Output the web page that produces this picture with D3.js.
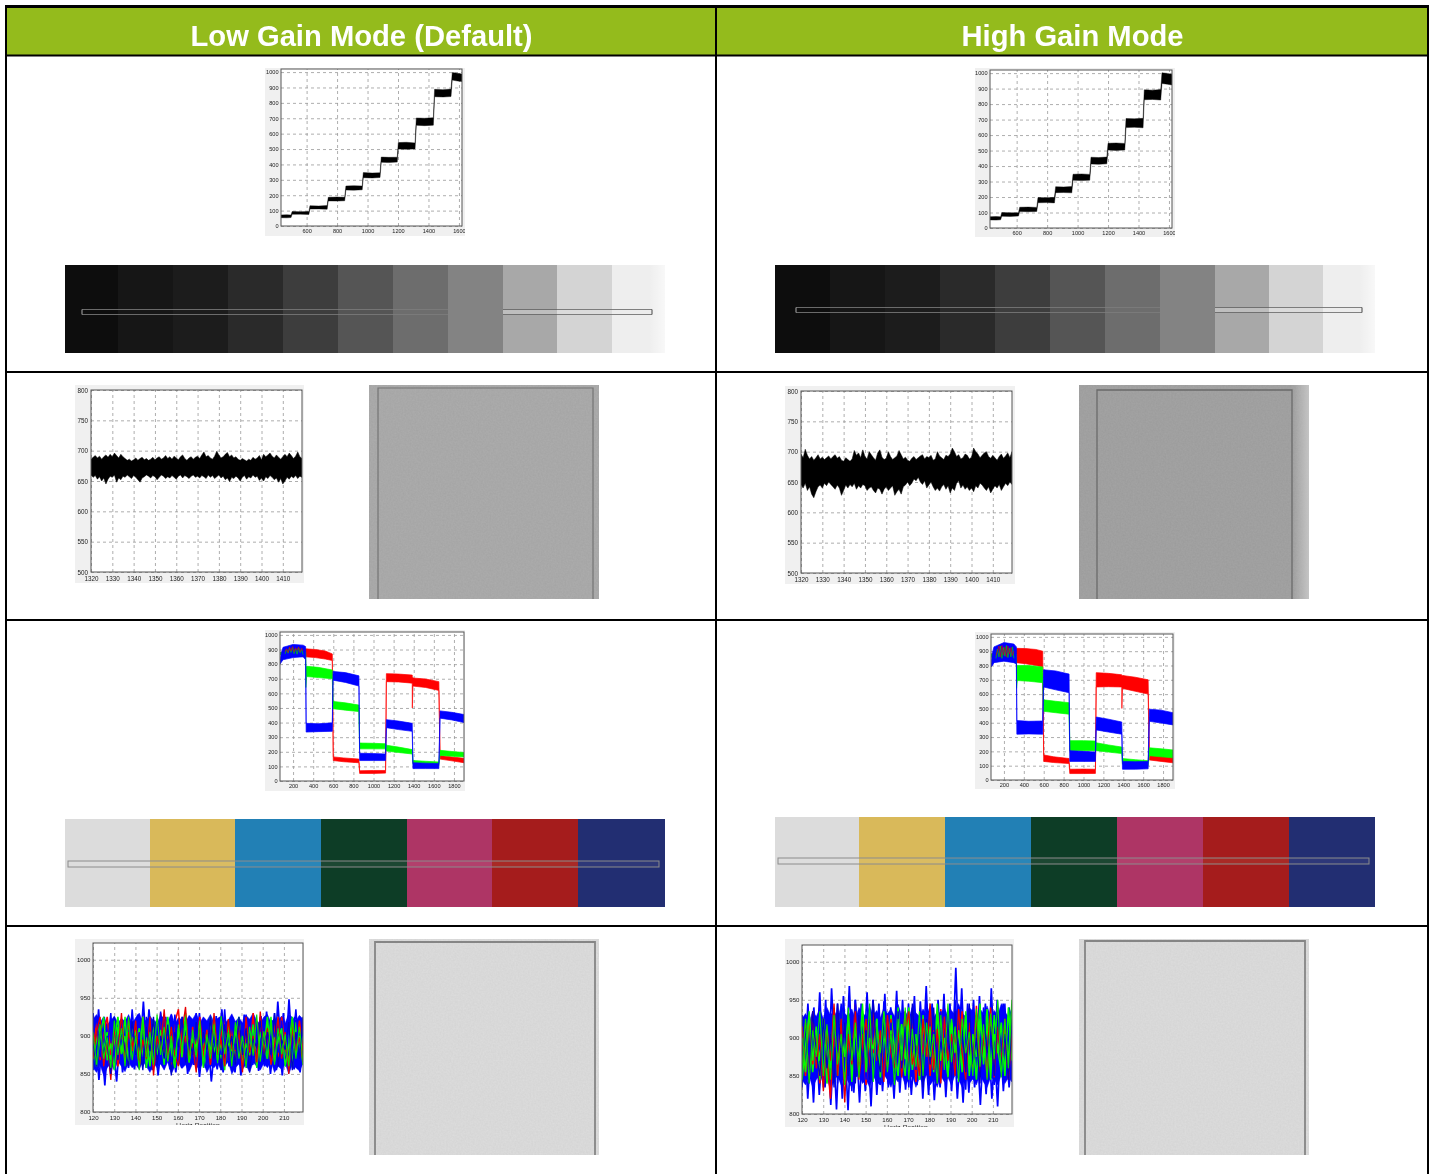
<!DOCTYPE html>
<html><head><meta charset="utf-8">
<script src="https://cdnjs.cloudflare.com/ajax/libs/d3/7.8.5/d3.min.js"></script>
<style>
html,body{margin:0;padding:0;background:#fff;overflow:hidden}
svg{display:block}
text{font-family:"Liberation Sans",Arial,sans-serif}
</style></head><body>
<svg id="c" width="1432" height="1174"></svg>
<script>
// ---------- column headings
const headings = ["Low Gain Mode (Default)", "High Gain Mode"];

// ---------- tick labels
const stepXTicks = [600,800,1000,1200,1400,1600];
const hundredYTicks = [0,100,200,300,400,500,600,700,800,900,1000];
const colorXTicks = [200,400,600,800,1000,1200,1400,1600,1800];
const grayNoiseXTicks = [1320,1330,1340,1350,1360,1370,1380,1390,1400,1410];
const grayNoiseYTicks = [500,550,600,650,700,750,800];
const colorNoiseXTicks = [120,130,140,150,160,170,180,190,200,210];
const colorNoiseYTicks = [800,850,900,950,1000];

// ---------- greyscale ramp response (position, upper, lower)
const stepLowX = [432,470,498,505,560,615,622,680,735,742,800,850,858,910,965,972,1030,1082,1090,1140,1195,1202,1255,1312,1320,1375,1432,1440,1495,1548,1556,1590,1620];
const stepLowHi = [72,73,71,94,93,94,132,130,133,186,188,186,260,262,260,347,344,346,448,446,447,542,544,540,702,700,704,888,886,890,997,992,987];
const stepLowLo = [54,53,55,76,77,75,110,111,109,163,162,164,234,233,235,314,312,315,414,412,415,500,498,501,654,652,655,840,838,841,948,942,938];
const stepHighX = [425,465,495,502,558,612,620,678,732,740,798,848,856,908,962,970,1028,1080,1088,1138,1192,1200,1252,1310,1318,1372,1430,1438,1492,1546,1554,1590,1620];
const stepHighHi = [73,74,72,100,98,99,134,135,133,197,195,198,267,265,268,347,349,346,457,455,458,547,549,546,707,705,708,892,890,894,1002,998,992];
const stepHighLo = [52,51,53,76,75,77,106,105,107,163,164,162,228,229,227,308,306,309,413,411,414,503,501,504,648,650,647,828,830,826,933,928,923];

// ---------- grey patch noise envelopes
const grayLowHi = [686,689,692,688,691,686,690,693,689,694,690,696,692,688,694,690,687,684,686,683,685,688,684,687,689,685,687,684,686,689,685,688,690,686,688,692,687,690,686,691,688,685,690,693,687,684,688,690,686,689,691,687,693,698,690,692,688,686,691,699,693,688,690,694,697,690,693,688,690,686,684,687,685,683,686,684,689,686,688,692,685,694,690,693,696,691,688,693,689,686,690,694,690,696,692,687,691,698,690,687];
const grayLowLo = [660,656,659,653,657,650,655,645,653,658,656,660,648,655,652,658,656,660,657,654,659,656,652,648,655,657,660,658,655,659,657,652,656,660,658,654,657,655,659,656,653,658,660,655,659,657,654,658,660,656,658,655,659,657,654,660,656,659,654,657,660,655,658,652,655,649,656,654,658,655,650,656,659,653,657,655,660,656,658,651,655,650,657,654,659,656,652,655,648,654,645,650,656,653,658,655,659,654,658,656];
const grayHighHi = [696,690,704,694,688,692,686,690,695,688,691,687,690,693,688,692,695,689,692,686,684,690,687,684,688,702,694,698,690,703,692,688,700,695,690,686,698,703,691,687,689,700,692,687,690,693,702,695,688,691,686,684,689,692,687,690,693,695,688,692,690,694,686,688,700,693,690,687,694,692,696,706,700,692,695,688,690,696,694,688,691,706,700,696,690,694,698,700,692,689,694,690,686,692,696,689,693,698,690,700];
const grayHighLo = [645,640,648,636,642,630,624,634,642,645,640,648,644,650,646,642,638,645,640,628,636,645,640,646,642,648,638,644,640,646,644,636,640,642,636,632,640,638,630,638,642,636,640,644,628,634,638,630,642,645,650,644,648,655,652,658,650,646,652,640,645,650,642,636,640,635,642,646,638,644,632,640,636,648,652,640,645,638,642,636,640,634,644,640,648,645,640,636,642,632,638,644,640,646,636,642,648,644,650,646];

// ---------- colour bar response, rows are [position, upper, lower]
const barLowRed = [[70,880,865],[325,905,850],[420,900,845],[520,890,835],[590,870,825],[600,165,140],[700,158,132],[855,150,125],[862,70,52],[1000,72,52],[1120,72,54],[1128,735,680],[1250,732,678],[1385,725,670],[1386,715,500],[1392,705,650],[1520,698,640],[1650,680,620],[1662,175,150],[1780,165,138],[1900,155,125]];
const barLowGreen = [[70,880,865],[325,880,865],[327,785,640],[335,785,715],[450,778,708],[590,760,700],[598,545,495],[720,535,485],[855,520,475],[862,260,220],[1000,258,220],[1120,255,220],[1128,245,205],[1250,232,195],[1385,215,185],[1392,140,115],[1520,135,110],[1650,130,105],[1662,210,175],[1780,202,170],[1900,195,165]];
const barLowBlue = [[70,830,800],[85,880,815],[100,915,830],[200,935,845],[300,930,850],[325,920,830],[330,395,335],[450,392,338],[590,398,340],[598,750,690],[720,742,675],[855,720,650],[862,190,140],[1000,188,140],[1120,185,140],[1128,420,365],[1250,410,352],[1385,395,340],[1392,125,85],[1520,122,85],[1650,120,85],[1662,480,430],[1780,470,418],[1900,455,400]];
const barHighRed = [[70,880,860],[325,920,820],[420,918,812],[520,912,800],[590,900,790],[600,175,130],[700,162,122],[855,150,115],[862,75,45],[1000,76,45],[1120,75,46],[1128,750,650],[1250,745,652],[1385,735,650],[1386,725,500],[1392,730,640],[1520,718,620],[1650,700,600],[1662,185,140],[1780,175,130],[1900,165,120]];
const barHighGreen = [[70,880,860],[325,880,860],[327,800,640],[335,800,695],[450,800,690],[590,790,680],[598,560,480],[720,550,470],[855,540,460],[862,275,205],[1000,275,205],[1120,272,205],[1128,260,205],[1250,245,195],[1385,230,185],[1392,150,110],[1520,142,105],[1650,135,100],[1662,225,170],[1780,218,162],[1900,210,155]];
const barHighBlue = [[70,810,790],[85,890,800],[100,930,820],[200,960,830],[300,950,820],[325,930,810],[330,415,320],[450,410,322],[590,412,320],[598,770,650],[720,762,630],[855,740,610],[862,205,130],[1000,200,130],[1120,195,130],[1128,440,350],[1250,425,335],[1385,405,320],[1392,130,75],[1520,128,75],[1650,130,78],[1662,495,410],[1780,488,398],[1900,470,385]];
const barMixX = [120,135,150,165,180,195,210,225,240,255,270,285,300];
const barLowMixGreen = [870,900,875,910,880,915,872,905,868,912,878,900,865];
const barLowMixRed = [885,905,880,918,890,920,885,912,895,918,885,910,890];
const barHighMixGreen = [850,915,860,935,850,925,865,940,855,920,860,930,850];
const barHighMixRed = [870,900,935,860,940,875,930,860,935,880,925,870,900];

// ---------- white patch noise: a core band and individual traces
const whiteLowCoreHi = [922,928,918,925,915,920,926,917,923,919,928,916,924,930,918,921,926,920,917,927,923,919,929,916,924,921,918,927,922,930,917,925,920,928,918,923,926,916,921,929,919,924,917,927,922,930,920,916,925,928,918,923,921,926,917,929,924,920,927,922];
const whiteLowCoreLo = [858,852,862,848,858,864,855,866,860,853,865,858,862,856,866,860,852,864,858,863,855,866,850,860,865,857,862,853,864,860,856,866,852,861,858,864,855,860,866,850,858,863,856,862,852,865,860,855,864,858,866,852,860,856,864,850,862,858,854,864];
const whiteLowBlueTop = [930,885,935,880,925,890,915,875,920,888,918,880,922,892,915,878,928,890,945,885,935,892,920,880,918,888,925,875,928,890,916,882,925,890,918,878,922,888,930,882,920,892,918,880,926,885,935,890,920,878,924,888,916,880,928,892,922,885,918,880,926,890,932,884,920,878,945,892,930,885,948,890,925,880,920,888];
const whiteLowBlueBottom = [855,895,842,888,835,892,848,880,840,895,852,885,858,890,856,882,862,895,858,880,855,890,848,884,860,892,856,880,852,888,858,895,850,882,862,890,846,884,858,892,840,880,856,888,852,895,860,885,852,890,848,882,858,895,862,886,854,880,860,892,850,884,855,888,848,895,862,880,856,890,852,885];
const whiteLowGreenA = [905,862,915,870,898,858,920,875,910,860,925,868,900,855,918,872,905,862,928,875,912,866,900,860,915,878,925,865,908,872,920,858,902,870,915,864,926,876,905,860,918,870,900,858,912,874,928,866,906,870,920,862,910,876,902,860,922,870,912,866];
const whiteLowGreenB = [870,895,915,880,905,868,892,925,876,900,865,915,885,910,872,898,860,920,882,908,870,925,888,865,905,880,918,868,900,875,910,885,862,925,878,895,870,912,884,905,866,920,875,900,888,915,870,908,880,925,864,898,885,912,872,905,860,918,880,900];
const whiteLowGreenC = [885,860,900,925,868,890,855,912,878,925,862,895,905,870,925,858,890,912,875,900,862,922,880,858,910,872,930,865,895,885,915,860,905,878,925,868,892,855,915,880,902,925,862,890,875,915,858,905,885,870,925,866,895,910,860,888,925,875,900,862];
const whiteLowRedA = [880,918,868,905,925,875,912,860,900,870,920,880,908,862,925,875,890,915,866,930,878,905,862,918,935,872,900,866,912,880,925,870,908,862,916,876,900,925,868,910,880,920,866,905,874,930,862,912,880,900,868,918,872,925,885,866,910,875,920,880];
const whiteLowRedB = [870,905,925,860,895,842,915,878,930,865,905,885,920,858,895,870,925,848,900,880,935,868,912,875,860,905,938,870,890,852,918,880,905,864,930,875,895,860,922,884,870,908,852,925,878,900,865,932,874,910,862,888,925,870,905,850,918,880,898,866];
const whiteLowBlueA = [900,925,872,915,880,930,865,910,888,920,868,935,880,905,860,925,890,915,870,932,882,910,865,928,878,905,868,920,885,930,870,915,860,925,890,905,875,935,868,918,882,910,862,928,880,915,870,925,888,905,866,930,878,920,860,912,885,935,872,910];
const whiteLowBlueC = [890,860,915,875,900,850,925,868,905,882,860,920,875,895,855,912,880,925,862,900,870,915,848,905,885,925,865,895,875,918,858,905,882,925,870,895,855,915,880,900,862,925,875,910,852,895,885,920,866,905,875,930,860,895,882,918,855,905,870,925];
const whiteHighCoreHi = [925,932,920,935,928,938,925,940,930,936,926,942,932,928,938,925,940,933,928,942,930,936,926,940,932,938,928,944,930,935,926,940,933,928,938,930,942,926,935,932,940,928,936,930,945,932,928,940,935,926,938,932,942,928,936,930,945,934,928,940];
const whiteHighCoreLo = [845,838,850,835,845,852,840,848,832,845,850,838,852,842,835,848,852,840,845,835,850,842,838,852,845,835,848,842,852,838,845,850,835,848,840,852,838,845,835,850,842,848,838,852,845,835,850,840,846,838,852,842,835,848,845,838,852,840,848,842];
const whiteHighBlueTop = [930,870,945,865,940,880,960,870,950,860,965,885,945,870,955,880,968,875,950,860,945,885,960,870,950,880,945,865,958,875,940,885,962,870,950,865,945,880,955,870,948,885,968,875,945,860,950,880,958,870,945,885,992,880,965,870,945,885,950,870,955,880,945,865,965,875,950,885,945,870,940,880];
const whiteHighBlueBottom = [835,900,820,885,815,895,825,880,835,890,812,885,806,895,820,880,805,892,828,885,815,890,830,880,810,895,825,885,830,890,835,880,820,895,828,885,832,890,825,880,838,895,820,885,825,890,818,880,835,892,822,885,830,895,820,880,815,888,828,895,835,880,812,885,826,892,820,880,810,895,830,885,835,890];
const whiteHighGreenA = [860,925,840,910,875,935,850,918,845,930,865,905,838,940,870,920,848,928,860,945,842,915,880,932,855,908,838,925,870,940,845,912,862,935,850,920,875,905,840,930,858,945,868,915,842,925,880,908,850,938,862,918,845,932,872,950,848,925,860,945];
const whiteHighGreenB = [845,890,930,855,905,870,925,840,885,915,860,938,875,900,848,920,880,935,855,895,870,925,842,910,865,930,885,850,918,872,940,858,900,845,925,878,905,860,935,870,890,850,920,882,910,855,930,865,900,845,925,875,938,860,905,880,920,850,940,870];
const whiteHighGreenC = [900,855,935,870,915,845,925,880,860,940,850,905,875,930,842,915,868,945,855,900,885,925,848,935,870,910,855,940,880,850,925,865,905,845,930,875,915,855,945,870,900,848,925,880,910,860,935,850,905,875,945,865,920,845,930,885,855,915,870,950];
const whiteHighRedA = [915,850,930,865,905,840,925,875,820,910,860,935,848,920,870,945,855,905,838,930,880,915,850,940,862,925,845,908,872,935,855,920,842,915,878,930,850,910,840,938,865,925,852,905,880,935,845,918,860,942,870,910,848,928,855,915,865,900,850,925];
const whiteHighRedB = [880,920,845,935,860,905,830,915,870,945,850,925,815,905,865,935,845,890,925,855,940,870,910,842,930,880,860,920,848,905,935,865,890,850,925,875,945,858,912,840,928,870,905,850,938,880,845,920,865,930,855,900,880,940,848,915,870,925,845,905];
const whiteHighBlueA = [880,930,845,920,860,940,835,915,870,925,840,945,855,910,830,950,875,925,845,935,860,905,838,948,868,920,842,930,880,915,835,940,858,925,850,945,870,908,840,935,862,928,845,950,875,915,832,938,868,922,848,940,880,910,838,930,858,945,850,925];
const whiteHighBlueC = [870,915,840,935,880,850,925,860,905,835,945,875,920,850,900,840,930,865,910,845,950,880,855,925,870,905,840,935,860,915,850,945,875,905,835,925,865,940,850,895,880,920,845,935,870,910,855,945,865,900,840,930,880,915,850,940,860,905,845,925];

// ---------- chart patches
const grayPatches = ["#101010","#141414","#1b1b1b","#2a2a2a","#3d3d3d","#545454","#6d6d6d","#838383","#a8a8a8","#d4d4d4","#eeeeee"];
const grayFrameTones = ["#6a6a6a","#6a6a6a","#6c6c6c","#6e6e6e","#707070","#747474","#7a7a7a","#838383","#707070","#7c7c7c","#808080"];
const colorPatches = ["#dcdcdc","#d9b95a","#2180b5","#0f3d27","#ae3565","#a51f1a","#232e72"];

const svg = d3.select("#c");
const defs = svg.append("defs");
function softFilter(id,s){
  const f = defs.append("filter").attr("id",id).attr("x","-5%").attr("y","-5%").attr("width","110%").attr("height","110%");
  f.append("feGaussianBlur").attr("stdDeviation",s);
}
softFilter("soft",0.4); softFilter("softer",0.5); softFilter("faint",0.3); softFilter("softest",0.6);
const grain = defs.append("filter").attr("id","grain").attr("x",0).attr("y",0).attr("width","100%").attr("height","100%").attr("color-interpolation-filters","sRGB");
grain.append("feTurbulence").attr("type","fractalNoise").attr("baseFrequency",0.6).attr("numOctaves",2).attr("seed",3).attr("result","n");
grain.append("feColorMatrix").attr("in","n").attr("type","matrix")
  .attr("values","1 0 0 0 0  1 0 0 0 0  1 0 0 0 0  0 0 0 0 0.04").attr("result","g");
grain.append("feMerge").call(s=>{s.append("feMergeNode").attr("in","SourceGraphic");s.append("feMergeNode").attr("in","g");});

let clipId = 0;
function plot(o){
  const id = "clip"+(clipId++), idB = "clip"+(clipId++);
  const [bx0,by0,bx1,by1] = o.bg;
  defs.append("clipPath").attr("id",idB).append("rect").attr("x",bx0).attr("y",by0).attr("width",bx1-bx0).attr("height",by1-by0);
  const x = d3.scaleLinear().domain(o.xd).range(o.xr);
  const y = d3.scaleLinear().domain(o.yd).range(o.yr);
  defs.append("clipPath").attr("id",id).append("rect").attr("x",o.xr[0]).attr("y",o.yr[1]).attr("width",o.xr[1]-o.xr[0]).attr("height",o.yr[0]-o.yr[1]);
  const g = svg.append("g").attr("filter","url(#soft)").attr("clip-path",`url(#${idB})`);
  g.append("rect").attr("x",bx0).attr("y",by0).attr("width",bx1-bx0).attr("height",by1-by0).attr("fill","#f0f0f0");
  g.append("rect").attr("x",o.xr[0]).attr("y",o.yr[1]).attr("width",o.xr[1]-o.xr[0]).attr("height",o.yr[0]-o.yr[1]).attr("fill","#fff");
  const h = o.yr[0]-o.yr[1], w = o.xr[1]-o.xr[0];
  const ax = g.append("g").attr("transform",`translate(0,${o.yr[0]})`)
    .call(d3.axisBottom(x).tickValues(o.xt).tickSize(-h).tickPadding(o.pad).tickFormat(d3.format("d")));
  const ay = g.append("g").attr("transform",`translate(${o.xr[0]},0)`)
    .call(d3.axisLeft(y).tickValues(o.yt).tickSize(-w).tickPadding(o.ypad||2).tickFormat(d3.format("d")));
  [ax,ay].forEach(a=>{
    a.select(".domain").remove();
    a.selectAll("line").attr("stroke","#999").attr("stroke-width",0.8).attr("stroke-dasharray","3,3");
    a.selectAll("text").attr("font-size",o.fs).attr("fill","#222").attr("font-family","Liberation Sans, Arial, sans-serif");
  });
  const marks = g.append("g").attr("clip-path",`url(#${id})`);
  if(o.blur) marks.attr("filter",`url(#${o.blur})`);
  o.draw(marks,x,y);
  g.append("rect").attr("x",o.xr[0]).attr("y",o.yr[1]).attr("width",w).attr("height",h).attr("fill","none").attr("stroke","#555").attr("stroke-width",1);
  if(o.label) g.append("text").attr("x",o.label[0]).attr("y",o.label[1]).attr("text-anchor","middle").attr("font-size",o.fs+1).attr("fill","#333").text("Horiz Position");
}
function band(m,x,y,xs,hi,lo,col){
  const rows = xs.map((d,i)=>[d,hi[i],lo[i]]);
  m.append("path").datum(rows)
   .attr("d",d3.area().x(d=>x(d[0])).y0(d=>y(d[2])).y1(d=>y(d[1])))
   .attr("fill",col).attr("stroke",col).attr("stroke-width",0.4);
}
const grid = (a,b,n)=>d3.range(n).map(i=>a+(b-a)*i/(n-1));
function envelope(m,x,y,hi,lo,xa,xb,col){
  const top = grid(xa,xb,hi.length).map((d,i)=>[d,hi[i]]);
  const bot = grid(xa,xb,lo.length).map((d,i)=>[d,lo[i]]).reverse();
  m.append("path").datum(top.concat(bot))
   .attr("d",d3.line().x(d=>x(d[0])).y(d=>y(d[1])).curve(d3.curveLinearClosed))
   .attr("fill",col).attr("stroke",col).attr("stroke-width",0.5);
}
function rowsBand(m,x,y,rows,col){
  m.append("path").datum(rows)
   .attr("d",d3.area().x(d=>x(d[0])).y0(d=>y(d[2])).y1(d=>y(d[1])))
   .attr("fill",col).attr("stroke",col).attr("stroke-width",0.7);
}
function trace(m,x,y,xs,vals,col,sw,op){
  m.append("path").datum(vals.map((v,i)=>[xs[i],v]))
   .attr("d",d3.line().x(d=>x(d[0])).y(d=>y(d[1])))
   .attr("fill","none").attr("stroke",col).attr("stroke-width",sw||1).attr("stroke-opacity",op||1);
}

function strip(edges,y0,y1,patches,frame,tones){
  const s = d3.scaleLinear().domain(d3.range(edges.length)).range(edges);
  const g = svg.append("g").attr("filter","url(#faint)");
  g.selectAll("rect.p").data(patches).join("rect").attr("class","p")
   .attr("x",(d,i)=>s(i)).attr("y",y0).attr("width",(d,i)=>s(i+1)-s(i)+(i<patches.length-1?0.5:0)).attr("height",y1-y0).attr("fill",d=>d);
  const [fx0,fy0,fx1,fy1] = frame;
  if(tones){
    g.append("rect").attr("x",edges[edges.length-1]-16).attr("y",y0).attr("width",16).attr("height",y1-y0).attr("fill","url(#whiteFade)");
    patches.forEach((p,i)=>{
      const a = Math.max(s(i),fx0), b = Math.min(s(i+1),fx1);
      [fy0,fy1].forEach(yy=>g.append("line").attr("x1",a).attr("x2",b).attr("y1",yy).attr("y2",yy).attr("stroke",tones[i]).attr("stroke-width",1));
      if(i>=8) g.append("rect").attr("x",a).attr("y",fy0+0.5).attr("width",b-a).attr("height",fy1-fy0-1).attr("fill","#e8e8e8").attr("opacity",0.35);
    });
    g.append("line").attr("x1",fx0).attr("x2",fx0).attr("y1",fy0).attr("y2",fy1).attr("stroke","#aaa");
    g.append("line").attr("x1",fx1).attr("x2",fx1).attr("y1",fy0).attr("y2",fy1).attr("stroke","#444");
  } else {
    g.append("rect").attr("x",fx0).attr("y",fy0).attr("width",fx1-fx0).attr("height",fy1-fy0).attr("fill","#fff").attr("fill-opacity",0.05).attr("stroke","#8c8c8c").attr("stroke-width",1);
  }
}
function photo(x0,y0,x1,y1,fill,fx0,fy0,fx1,stroke,sw,edge){
  const g = svg.append("g");
  g.append("rect").attr("x",x0).attr("y",y0).attr("width",x1-x0).attr("height",y1-y0).attr("fill",fill).attr("filter","url(#grain)");
  if(edge) g.append("rect").attr("x",fx1+1).attr("y",y0).attr("width",x1-fx1-1).attr("height",y1-y0).attr("fill",edge);
  g.append("path").attr("d",`M${fx0},${y1}V${fy0}H${fx1}V${y1}`).attr("fill","none").attr("stroke",stroke).attr("stroke-width",sw).attr("filter","url(#faint)");
}
const edgeFade = defs.append("linearGradient").attr("id","edgeFade");
edgeFade.append("stop").attr("offset",0).attr("stop-color","#c8c8c8").attr("stop-opacity",0);
edgeFade.append("stop").attr("offset",1).attr("stop-color","#c8c8c8").attr("stop-opacity",0.9);
const whiteFade = defs.append("linearGradient").attr("id","whiteFade");
whiteFade.append("stop").attr("offset",0).attr("stop-color","#fff").attr("stop-opacity",0);
whiteFade.append("stop").attr("offset",1).attr("stop-color","#fff").attr("stop-opacity",0.6);

// ----- row 1: greyscale step plots
const stepBase = {xt:stepXTicks,yt:hundredYTicks,fs:5.6,pad:3,ypad:2.5,yd:[0,1020]};
plot({...stepBase,bg:[265,68,465,236],xd:[432,1620],xr:[281,462],yr:[226,69],label:[368,241],
  draw:(m,x,y)=>band(m,x,y,stepLowX,stepLowHi,stepLowLo,"#000")});
plot({...stepBase,bg:[975,68,1175,237],xd:[425,1620],xr:[990,1172],yr:[228,70],
  draw:(m,x,y)=>band(m,x,y,stepHighX,stepHighHi,stepHighLo,"#000")});
strip([65,118,173,228,283,338,393,448,503,557,612,665],265,353,grayPatches,[82,309.5,652,314.5],grayFrameTones);
strip([775,830,885,940,995,1050,1105,1160,1215,1269,1323,1375],265,353,grayPatches,[796,307.5,1362,312.5],grayFrameTones);

// ----- row 2: grey noise plots
const grayBase = {xt:grayNoiseXTicks,yt:grayNoiseYTicks,fs:6.3,pad:4.5,ypad:3,xd:[1320,1419],yd:[500,800]};
plot({...grayBase,bg:[75,385,304,583],xr:[91,302],yr:[572,390],
  draw:(m,x,y)=>envelope(m,x,y,grayLowHi,grayLowLo,1320,1419,"#000")});
plot({...grayBase,bg:[785,386,1015,584],xr:[801,1012],yr:[573,391],
  draw:(m,x,y)=>envelope(m,x,y,grayHighHi,grayHighLo,1320,1419,"#000")});
photo(369,385,599,599,"#aaaaaa",378,388,593,"#747474",1.2);
photo(1079,385,1309,599,"#a1a1a1",1097,390,1292,"#6a6a6a",1.3,"url(#edgeFade)");

// ----- row 3: colour bar plots
const barBase = {xt:colorXTicks,yt:hundredYTicks,fs:5.6,pad:3,ypad:2.5,xd:[70,1900],yd:[0,1020],blur:"faint"};
function drawBars(r,g,b,mg,mr){
  return (m,x,y)=>{
    rowsBand(m,x,y,r,"#ff0000");
    rowsBand(m,x,y,g,"#00ff00");
    rowsBand(m,x,y,b,"#0000ff");
    trace(m,x,y,barMixX,mg,"#00d000",0.8,0.9);
    trace(m,x,y,barMixX,mr,"#e00000",0.7,0.9);
  };
}
plot({...barBase,bg:[265,630,465,791],xr:[280,464],yr:[781,632],draw:drawBars(barLowRed,barLowGreen,barLowBlue,barLowMixGreen,barLowMixRed)});
plot({...barBase,bg:[975,632,1175,789],xr:[991,1173],yr:[780,634],draw:drawBars(barHighRed,barHighGreen,barHighBlue,barHighMixGreen,barHighMixRed)});
strip([65,150,235,321,407,492,578,665],819,907,colorPatches,[68,861,659,867]);
strip([775,859,945,1031,1117,1203,1289,1375],817,907,colorPatches,[778,858,1369,864]);

// ----- row 4: white patch noise plots
const whiteBase = {xt:colorNoiseXTicks,yt:colorNoiseYTicks,fs:6.1,pad:4,ypad:2.5,xd:[120,219],yd:[800,1022],blur:"soft"};
function drawWhite(hi,lo,top,bot,ba,bc,ga,gb,gc,ra,rb){
  return (m,x,y)=>{
    const t = v=>grid(120,219,v.length);
    envelope(m,x,y,hi,lo,120,219,"#0000ff");
    trace(m,x,y,t(top),top,"#0000ff",1.7);
    trace(m,x,y,t(bot),bot,"#0000ff",1.7);
    trace(m,x,y,t(gb),gb,"#00ff00",1.6);
    trace(m,x,y,t(ra),ra,"#ff0000",1.5);
    trace(m,x,y,t(ba),ba,"#0000ff",1.5);
    trace(m,x,y,t(gc),gc,"#00ff00",1.4);
    trace(m,x,y,t(rb),rb,"#e60000",1.3);
    trace(m,x,y,t(bc),bc,"#0000cc",1.3);
    trace(m,x,y,t(ga),ga,"#00e600",1.1);
  };
}
plot({...whiteBase,bg:[75,939,304,1125],xr:[93,303],yr:[1112,943],label:[198,1128],
  draw:drawWhite(whiteLowCoreHi,whiteLowCoreLo,whiteLowBlueTop,whiteLowBlueBottom,whiteLowBlueA,whiteLowBlueC,whiteLowGreenA,whiteLowGreenB,whiteLowGreenC,whiteLowRedA,whiteLowRedB)});
plot({...whiteBase,bg:[785,939,1014,1127],xr:[802,1012],yr:[1114,945],label:[906,1130],
  draw:drawWhite(whiteHighCoreHi,whiteHighCoreLo,whiteHighBlueTop,whiteHighBlueBottom,whiteHighBlueA,whiteHighBlueC,whiteHighGreenA,whiteHighGreenB,whiteHighGreenC,whiteHighRedA,whiteHighRedB)});
photo(369,939,599,1155,"#dcdcdc",375,942,595,"#858585",1.8);
photo(1079,939,1309,1155,"#dcdcdc",1085,941,1305,"#858585",1.8);

// ----- table frame and headings
const cols = [6,716,1428], rows = [6.5,55.5,372,620,926];
const headerWidths = [342,222];
const headerX = d3.scaleBand().domain(headings).range([cols[0],cols[2]]);
svg.insert("rect",":first-child").attr("x",6).attr("y",7).attr("width",1422).attr("height",48).attr("fill","#94bb1c");
const t = svg.append("g");
cols.forEach(c=>t.append("line").attr("x1",c).attr("x2",c).attr("y1",5).attr("y2",1174).attr("stroke","#000").attr("stroke-width",2));
rows.forEach((r,i)=>t.append("line").attr("x1",5).attr("x2",1429).attr("y1",r).attr("y2",r).attr("stroke","#000").attr("stroke-width",i===0?3:2));
t.selectAll("text").data(headings).join("text")
 .attr("x",d=>headerX(d)+headerX.bandwidth()/2).attr("y",46).attr("text-anchor","middle")
 .attr("fill","#fff").attr("font-size",30).attr("font-weight",700)
 .attr("textLength",(d,i)=>headerWidths[i]).attr("lengthAdjust","spacingAndGlyphs").text(d=>d);
</script></body></html>
